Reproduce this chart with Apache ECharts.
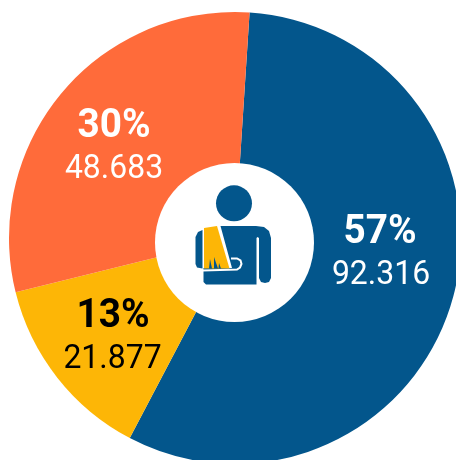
<!DOCTYPE html>
<html><head><meta charset="utf-8">
<style>html,body{margin:0;padding:0;background:#fff}#c{width:456px;height:460px}</style>
<script src="https://cdn.jsdelivr.net/npm/echarts@6/dist/echarts.min.js"></script>
</head><body><div id="c"></div>
<script>
const categories = ['Blue', 'Yellow', 'Orange'];
const values = [92316, 21877, 48683];
const percents = ['57%', '13%', '30%'];
const amounts = ['92.316', '21.877', '48.683'];
const colors = ['#03568c', '#fdb606', '#ff6b3a'];
const labelColors = ['#fff', '#000', '#fff'];
const font = 'Roboto,sans-serif';
const chart = echarts.init(document.getElementById('c'), null, {renderer:'canvas'});
const pctPos = [[380, 233], [113, 317], [114, 127]];
const amtPos = [[381, 276], [112.5, 360], [114, 170]];
const texts = [];
percents.forEach((t, i) => {
  texts.push({type:'text', z:10, x:pctPos[i][0], y:pctPos[i][1], scaleY:1.06, scaleX:1.02, style:{text:t, fill:labelColors[i], font:'bold 38px '+font, align:'center', verticalAlign:'middle'}});
  texts.push({type:'text', z:10, x:amtPos[i][0], y:amtPos[i][1], scaleY:1.08, scaleX:1.03, style:{text:amounts[i], fill:labelColors[i], font:'31px '+font, align:'center', verticalAlign:'middle'}});
});
const blue = colors[0], yellow = colors[1];
const poly = (points, fill) => ({type:'polygon', shape:{points}, style:{fill}});
const icon = [
  {type:'circle', shape:{cx:234, cy:203.3, r:18}, style:{fill:blue}},
  poly([[220.5,226],[256,226],[264,227],[269,231],[271,238],[271,278],[269,282],[265,283],[261,282],[259,278],[259,238],[257.5,237],[256.5,238],[256.5,284.5],[206,284.5],[203.5,282],[203.5,268],[232,268]], blue),
  poly([[202.5,230],[198,232],[195.5,237],[195.5,264],[197,267.5],[202.5,268.5]], blue),
  poly([[204,228],[217,226],[229.5,268.5],[204,268.5]], yellow),
  poly([[209,268.5],[210,259],[212,268.5]], blue),
  poly([[214,268.5],[214,257],[218,268.5]], blue),
  poly([[218.5,268.5],[219,263],[221,268.5]], blue),
  {type:'polyline', shape:{points:[[231,258.5],[237,258.5],[240.5,260.5],[241.5,264],[240,267.5],[237,269.5],[203,270.5]]}, style:{stroke:'#fff', lineWidth:2, fill:null}}
];
chart.setOption({
  animation:false,
  series:[{
    type:'pie', silent:true, center:[235, 238], radius:[0, 226], startAngle:86.3, clockwise:true,
    label:{show:false}, labelLine:{show:false},
    data: categories.map((n,i)=>({name:n, value:values[i], itemStyle:{color:colors[i]}}))
  }],
  graphic: [{type:'circle', z:5, shape:{cx:234.5, cy:242.5, r:79.5}, style:{fill:'#fff'}}]
    .concat(icon.map(e=>Object.assign({z:6}, e))).concat(texts)
});
</script></body></html>
